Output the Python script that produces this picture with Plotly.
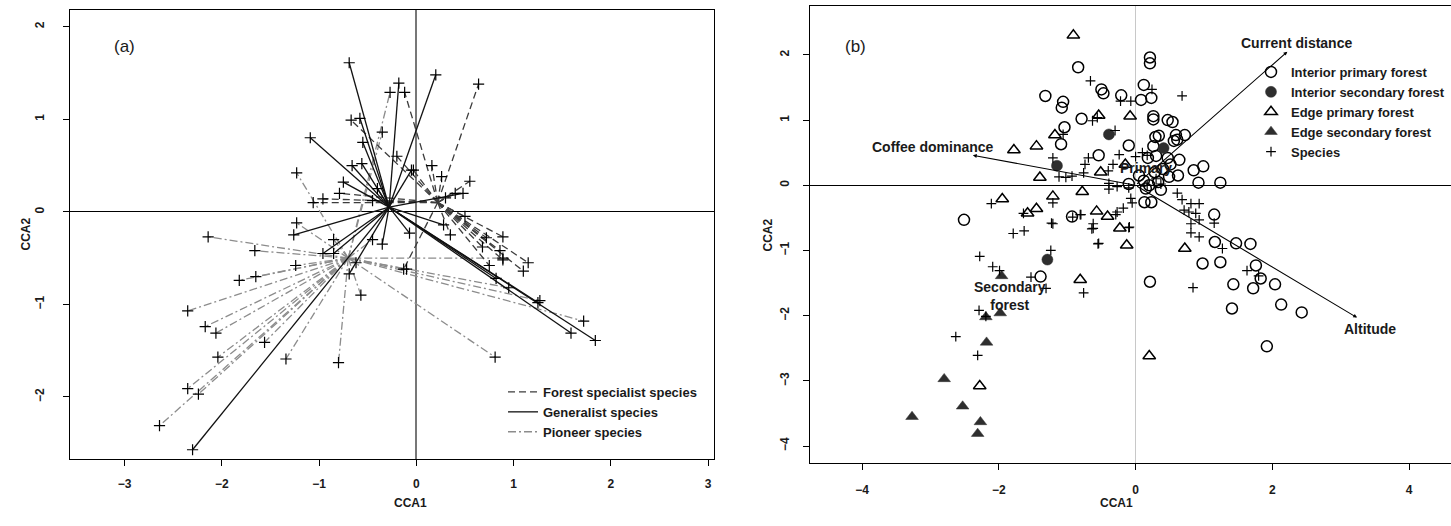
import plotly.graph_objects as go

W, H = 1451, 526
FONT = "Liberation Sans, Arial, sans-serif"

# ---------------- Panel (a): species spiders to group centroids ----------------
forest_hub_x, forest_hub_y = 0.22, 0.10
gen_hub_x, gen_hub_y = -0.28, 0.05
pion_hub_x, pion_hub_y = -0.70, -0.50

forest_x = [-0.12, 0.64, -0.67, -0.96, -1.06, -0.79, 0.16, 0.26, 0.55, 0.40, 0.89, 1.15, 1.10,
            0.75, 0.89, 0.68, 0.86, 0.72, -0.13, -0.03, 0.50, -0.20, 0.35, 0.30, -0.45]
forest_y = [1.29, 1.38, 0.99, 0.14, 0.10, 0.20, 0.50, 0.38, 0.33, 0.20, -0.27, -0.55, -0.64,
            -0.58, -0.52, -0.38, -0.42, -0.28, -0.62, 0.45, -0.05, 0.60, -0.25, 0.15, 0.12]

gen_x = [-0.69, -0.18, 0.20, -1.09, -0.58, -0.66, -0.56, 1.84, 1.59, 1.25, -2.30, -1.26,
         -0.96, -0.85, 0.48, 0.28, -0.07, -0.69, -0.75, -0.40, -0.05, 0.82, -0.55, -0.35]
gen_y = [1.61, 1.39, 1.48, 0.80, 1.01, 0.50, 0.52, -1.39, -1.31, -0.98, -2.57, -0.25,
         -0.45, -0.45, 0.20, -0.14, -0.23, -0.67, 0.32, 0.25, 0.45, -0.72, 0.75, -0.35]

pion_x = [-0.27, -0.35, -1.23, -2.14, -1.66, -1.23, -1.24, -1.65, -1.82, -2.35, -2.17, -2.06,
          -1.56, -2.04, -1.34, -2.35, -2.24, -2.64, -0.80, -0.57, 1.72, 0.81, 1.27, 0.95,
          0.89, -0.10, -0.45, -0.85, -0.62]
pion_y = [1.29, 0.86, 0.42, -0.27, -0.42, -0.12, -0.58, -0.70, -0.74, -1.07, -1.24, -1.31,
          -1.41, -1.57, -1.59, -1.91, -1.97, -2.31, -1.63, -0.90, -1.18, -1.57, -0.96, -0.82,
          -0.50, -0.62, -0.30, -0.30, -0.55]

a_xticks = [-3, -2, -1, 0, 1, 2, 3]
a_yticks = [-2, -1, 0, 1, 2]

# ---------------- Panel (b): CCA sites, species, environmental arrows ----------------
ipf_x = [0.21, 0.21, -0.84, 0.12, -1.32, -1.06, -1.08, -0.50, -0.47, -0.21, 0.08, 0.23, -0.79,
         0.26, 0.26, 0.47, 0.54, -1.04, 0.29, 0.34, 0.59, 0.72, 0.56, 0.61, -1.09, -0.10, 0.26,
         -0.54, 0.47, 0.64, 0.85, 0.99, 0.62, 0.51, 0.49, 0.92, 1.24, -0.10, 0.12, 0.20, 0.37,
         0.13, 0.23, -2.51, -0.93, 1.15, 1.16, 1.47, 1.68, 0.98, 1.24, 1.76, -1.39, 0.21, 1.83,
         1.43, 1.72, 2.04, 1.41, 2.13, 2.43, 1.92, 0.05, 0.28, 0.33, 0.15, 0.40, 0.30, 0.18]
ipf_y = [1.96, 1.87, 1.81, 1.54, 1.37, 1.28, 1.19, 1.47, 1.41, 1.38, 1.31, 1.34, 1.02,
         1.06, 1.01, 1.00, 0.97, 0.89, 0.74, 0.76, 0.77, 0.77, 0.68, 0.70, 0.63, 0.61, 0.60,
         0.46, 0.42, 0.39, 0.23, 0.29, 0.15, 0.32, 0.13, 0.04, 0.04, 0.02, 0.07, 0.00, -0.07,
         -0.26, -0.26, -0.53, -0.48, -0.45, -0.87, -0.89, -0.90, -1.20, -1.18, -1.23, -1.40, -1.48, -1.43,
         -1.52, -1.58, -1.52, -1.89, -1.83, -1.95, -2.47, 0.15, 0.20, 0.05, -0.05, 0.25, 0.45, 0.42]

isf_x = [-0.39, 0.41, -1.15, -1.29]
isf_y = [0.78, 0.57, 0.30, -1.14]

epf_x = [-0.91, -1.78, -1.45, -1.18, -0.54, -0.08, -1.40, -0.78, -1.95, -1.21, -1.45,
         -1.58, -0.57, -0.41, -0.23, -0.13, 0.72, -0.51, -0.15, -0.81, 0.20, -2.28]
epf_y = [2.30, 0.54, 0.60, 0.77, 1.07, 1.06, 0.12, -0.10, -0.21, -0.17, -0.36,
         -0.43, -0.40, -0.48, -0.66, -0.92, -0.97, 0.20, 0.32, -1.45, -2.62, -3.08]

esf_x = [-1.96, -1.98, -2.19, -2.18, -2.80, -2.53, -2.27, -2.31, -3.27]
esf_y = [-1.39, -1.96, -2.02, -2.41, -2.97, -3.39, -3.63, -3.81, -3.55]

sp_x = [-2.11, -1.64, -1.21, -1.21, -0.81, -1.79, -1.63, -2.28, -2.09, -1.99, -1.24, -1.53,
        -1.31, -0.76, -0.62, -0.55, -0.29, -0.09, -2.29, -2.19, -2.63, -2.31, -0.62,
        -0.66, 0.68, 0.24, -0.07, -0.22, -0.63, -0.56, -0.30, -1.06, -1.21, -0.69, -0.74,
        -0.24, 0.00, 0.17, -0.40, -0.33, -1.12, -1.02, -0.93, -0.76, -0.39, -0.39, -0.27,
        -0.10, -0.07, -0.05, 0.61, 0.68, 0.81, 0.93, 0.71, 0.78, 0.88, 0.93, 0.81, 1.15,
        0.81, 0.93, -1.23, -0.80, -0.92, -0.64, -0.27, -0.10, -0.54, 1.27, 0.37, 0.17,
        0.84, 1.63, 1.80, -0.18, 0.10, 0.30]
sp_y = [-0.28, -0.43, -0.27, -0.59, -0.45, -0.74, -0.70, -1.09, -1.25, -1.31, -1.00, -1.41,
        -1.58, -1.65, -0.66, -0.90, -0.45, -0.64, -1.92, -2.01, -2.32, -2.61, -0.59,
        1.60, 1.37, 1.47, 1.29, 1.29, 0.99, 1.04, 0.84, 0.78, 0.42, 0.42, 0.32,
        0.47, 0.44, 0.46, 0.22, 0.32, 0.13, 0.12, 0.14, 0.19, 0.03, -0.06, -0.02,
        -0.04, -0.20, -0.27, -0.12, -0.22, -0.28, -0.28, -0.38, -0.41, -0.43, -0.53, -0.59, -0.58,
        -0.73, -0.79, -0.58, -0.45, -0.49, -0.67, -0.41, -0.65, -0.89, -0.97, 0.02, 0.00,
        -1.57, -1.31, -1.39, -0.35, 0.50, 0.10]

env_names = ["Current distance", "Coffee dominance", "Altitude"]
env_x = [2.22, -2.38, 3.24]
env_y = [2.05, 0.46, -2.03]
env_label_x = [2.35, -2.97, 3.43]
env_label_y = [2.18, 0.59, -2.20]

cent_names = ["Primary", "Secondary<br>forest"]
cent_x = [0.15, -1.84]
cent_y = [0.26, -1.70]

b_xticks = [-4, -2, 0, 2, 4]
b_yticks = [-4, -3, -2, -1, 0, 1, 2]


def spider(hx, hy, xs, ys):
    X, Y = [], []
    for x, y in zip(xs, ys):
        X += [hx, x, None]
        Y += [hy, y, None]
    return X, Y


fig = go.Figure()

# Panel (a) lines
px_, py_ = spider(pion_hub_x, pion_hub_y, pion_x, pion_y)
fig.add_trace(go.Scatter(x=px_, y=py_, mode="lines", name="Pioneer species",
                         line=dict(color="#8c8c8c", width=1.3, dash="8px,3px,2px,3px"),
                         legend="legend", legendrank=3, xaxis="x", yaxis="y", hoverinfo="skip"))
fx_, fy_ = spider(forest_hub_x, forest_hub_y, forest_x, forest_y)
fig.add_trace(go.Scatter(x=fx_, y=fy_, mode="lines", name="Forest specialist species",
                         line=dict(color="#3c3c3c", width=1.3, dash="7px,4px"),
                         legend="legend", legendrank=1, xaxis="x", yaxis="y", hoverinfo="skip"))
gx_, gy_ = spider(gen_hub_x, gen_hub_y, gen_x, gen_y)
fig.add_trace(go.Scatter(x=gx_, y=gy_, mode="lines", name="Generalist species",
                         line=dict(color="#111111", width=1.3),
                         legend="legend", legendrank=2, xaxis="x", yaxis="y", hoverinfo="skip"))
fig.add_trace(go.Scatter(x=forest_x + gen_x + pion_x, y=forest_y + gen_y + pion_y, mode="markers",
                         marker=dict(symbol="cross-thin", size=8, color="black",
                                     line=dict(width=1.2, color="black")),
                         showlegend=False, xaxis="x", yaxis="y", hoverinfo="skip"))

# Panel (b) points
fig.add_trace(go.Scatter(x=ipf_x, y=ipf_y, mode="markers", name="Interior primary forest",
                         marker=dict(symbol="circle-open", size=11, color="black",
                                     line=dict(width=1.5, color="black")),
                         legend="legend2", xaxis="x2", yaxis="y2", hoverinfo="skip"))
fig.add_trace(go.Scatter(x=isf_x, y=isf_y, mode="markers", name="Interior secondary forest",
                         marker=dict(symbol="circle", size=11, color="#2e2e2e",
                                     line=dict(width=0.5, color="#2e2e2e")),
                         legend="legend2", xaxis="x2", yaxis="y2", hoverinfo="skip"))
fig.add_trace(go.Scatter(x=epf_x, y=epf_y, mode="markers", name="Edge primary forest",
                         marker=dict(symbol="triangle-up-open", size=11, color="black",
                                     line=dict(width=1.5, color="black")),
                         legend="legend2", xaxis="x2", yaxis="y2", hoverinfo="skip"))
fig.add_trace(go.Scatter(x=esf_x, y=esf_y, mode="markers", name="Edge secondary forest",
                         marker=dict(symbol="triangle-up", size=11, color="#2e2e2e",
                                     line=dict(width=0.5, color="#2e2e2e")),
                         legend="legend2", xaxis="x2", yaxis="y2", hoverinfo="skip"))
fig.add_trace(go.Scatter(x=sp_x, y=sp_y, mode="markers", name="Species",
                         marker=dict(symbol="cross-thin", size=7, color="black",
                                     line=dict(width=1.2, color="black")),
                         legend="legend2", xaxis="x2", yaxis="y2", hoverinfo="skip"))

annotations = []
for x, y in zip(env_x, env_y):
    annotations.append(dict(x=x, y=y, ax=0, ay=0, xref="x2", yref="y2", axref="x2", ayref="y2",
                            showarrow=True, arrowhead=2, arrowsize=0.7, arrowwidth=1.1,
                            arrowcolor="black", text=""))
for name, x, y in zip(env_names, env_label_x, env_label_y):
    annotations.append(dict(x=x, y=y, xref="x2", yref="y2", text=name, showarrow=False,
                            font=dict(family=FONT, size=14, color="#1a1a1a", weight="bold")))
for name, x, y in zip(cent_names, cent_x, cent_y):
    annotations.append(dict(x=x, y=y, xref="x2", yref="y2", text=name, showarrow=False,
                            font=dict(family=FONT, size=14, color="#1a1a1a", weight="bold")))


def pxx(v):
    return v / W


def pxy(v):
    return 1 - v / H


title_font = dict(family=FONT, size=12, color="#1a1a1a", weight="bold")
annotations += [
    dict(x=pxx(392), y=pxy(512), xref="paper", yref="paper", text="CCA1", showarrow=False, font=title_font),
    dict(x=pxx(16), y=pxy(234.5), xref="paper", yref="paper", text="CCA2", showarrow=False,
         textangle=-90, font=title_font),
    dict(x=pxx(1135), y=pxy(512), xref="paper", yref="paper", text="CCA1", showarrow=False, font=title_font),
    dict(x=pxx(767), y=pxy(234.5), xref="paper", yref="paper", text="CCA2", showarrow=False,
         textangle=-90, font=title_font),
    dict(x=pxx(112), y=pxy(35), xref="paper", yref="paper", text="(a)", showarrow=False,
         font=dict(family=FONT, size=17, color="#1a1a1a")),
    dict(x=pxx(855), y=pxy(35), xref="paper", yref="paper", text="(b)", showarrow=False,
         font=dict(family=FONT, size=17, color="#1a1a1a")),
]

tickfont = dict(family=FONT, size=12, color="#1a1a1a", weight="bold")
axis_common = dict(showgrid=False, ticks="outside", ticklen=6, tickwidth=1, tickcolor="black",
                   showline=True, linecolor="black", linewidth=1, tickfont=tickfont)

fig.update_layout(
    width=W, height=H, margin=dict(l=0, r=0, t=0, b=0),
    paper_bgcolor="white", plot_bgcolor="white",
    font=dict(family=FONT),
    xaxis=dict(domain=[pxx(70), pxx(714)], range=[-3.56, 3.06], tickvals=a_xticks, mirror=True,
               zeroline=True, zerolinecolor="#777777", zerolinewidth=1.6,
               ticklabelstandoff=8, anchor="y", **axis_common),
    yaxis=dict(domain=[pxy(459), pxy(10)], range=[-2.67, 2.18], tickvals=a_yticks, mirror=True,
               zeroline=True, zerolinecolor="black", zerolinewidth=1.3, tickangle=-90,
               ticklabelstandoff=14, anchor="x", **axis_common),
    xaxis2=dict(domain=[pxx(809.5), 1.0], range=[-4.77, 4.614], tickvals=b_xticks, mirror=True,
                zeroline=True, zerolinecolor="#c8c8c8", zerolinewidth=1,
                ticklabelstandoff=10, anchor="y2", **axis_common),
    yaxis2=dict(domain=[pxy(463), pxy(6)], range=[-4.26, 2.75], tickvals=b_yticks,
                zeroline=True, zerolinecolor="black", zerolinewidth=1, tickangle=-90,
                ticklabelstandoff=9, anchor="x2", **axis_common),
    legend=dict(x=pxx(503), y=pxy(377), xanchor="left", yanchor="top", bgcolor="rgba(0,0,0,0)",
                font=dict(family=FONT, size=13, color="#1a1a1a", weight="bold"), traceorder="normal"),
    legend2=dict(x=pxx(1251), y=pxy(57), xanchor="left", yanchor="top", bgcolor="rgba(0,0,0,0)",
                 font=dict(family=FONT, size=13, color="#1a1a1a", weight="bold"), traceorder="normal"),
    annotations=annotations,
    showlegend=True,
)

fig.write_html("out.html")
